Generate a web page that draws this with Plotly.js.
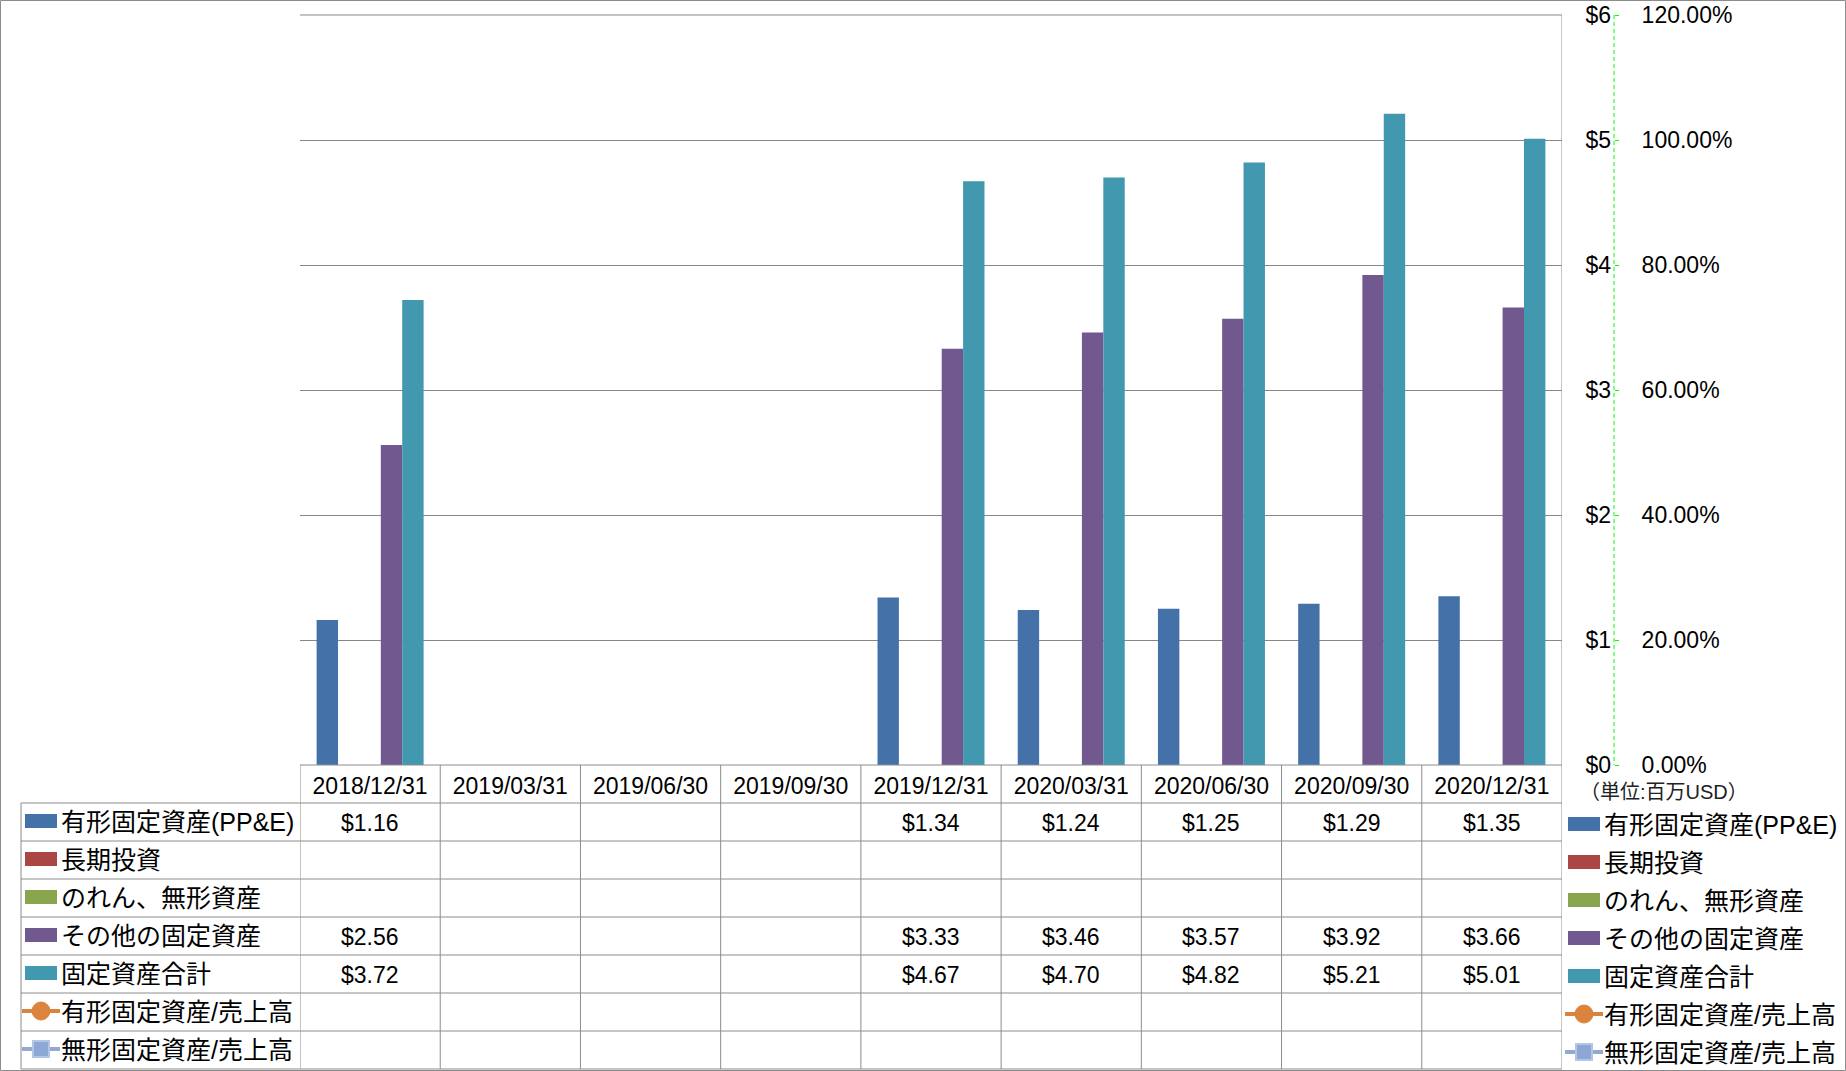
<!DOCTYPE html>
<html>
<head>
<meta charset="utf-8">
<script src="https://cdn.plot.ly/plotly-3.0.1.min.js"></script>
<style>
  html, body { margin: 0; padding: 0; background: #ffffff; }
  #chart { width: 1846px; height: 1071px; }
</style>
</head>
<body>
<div id="chart"></div>
<script>
// ---- data ----
const categories = ['2018/12/31', '2019/03/31', '2019/06/30', '2019/09/30', '2019/12/31', '2020/03/31', '2020/06/30', '2020/09/30', '2020/12/31'];
const ppe          = [1.16, null, null, null, 1.34, 1.24, 1.25, 1.29, 1.35];
const ltInvest     = [null, null, null, null, null, null, null, null, null];
const goodwill     = [null, null, null, null, null, null, null, null, null];
const otherFixed   = [2.56, null, null, null, 3.33, 3.46, 3.57, 3.92, 3.66];
const totalFixed   = [3.72, null, null, null, 4.67, 4.70, 4.82, 5.21, 5.01];
const ppeToSales   = [null, null, null, null, null, null, null, null, null];
const intangToSales= [null, null, null, null, null, null, null, null, null];
const seriesNames  = ['有形固定資産(PP&E)', '長期投資', 'のれん、無形資産', 'その他の固定資産', '固定資産合計', '有形固定資産/売上高', '無形固定資産/売上高'];
const usdTicks     = [0, 1, 2, 3, 4, 5, 6];
const usdTickText  = ['$0', '$1', '$2', '$3', '$4', '$5', '$6'];
const pctTicks     = [0, 0.2, 0.4, 0.6, 0.8, 1.0, 1.2];
const unitLabel    = '（単位:百万USD）';

// ---- styling ----
const W = 1846, H = 1071;
const fx = x => x / W;
const fy = y => 1 - y / H;
const FONT = 'Liberation Sans, Noto Sans CJK JP, sans-serif';
const GRID = '#878787';
const LINE = '#8c8c8c';
const barColors = ['#4471A7', '#AA4643', '#89A54E', '#71588F', '#4198AF'];
const lineColors = ['#DB843D', '#93A9CF'];

const barSeries = [ppe, ltInvest, goodwill, otherFixed, totalFixed];
const lineSeries = [ppeToSales, intangToSales];
const allSeries = barSeries.concat(lineSeries);

const traces = [];
barSeries.forEach((s, i) => {
  traces.push({
    type: 'bar', x: categories, y: s, name: seriesNames[i],
    marker: { color: barColors[i] }, xaxis: 'x', yaxis: 'y', hoverinfo: 'skip'
  });
});
lineSeries.forEach((s, i) => {
  traces.push({
    type: 'scatter', mode: 'lines+markers', x: categories, y: s, name: seriesNames[5 + i],
    line: { color: lineColors[i], width: 3 }, marker: { color: lineColors[i], size: 10 },
    xaxis: 'x', yaxis: 'y2', hoverinfo: 'skip'
  });
});

const plotTop = 15, plotBottom = 765, plotLeft = 300, plotRight = 1562;
const axisX = 1614;
const rowTop0 = 803, rowH = 38, nRows = 7, tableBottom = rowTop0 + rowH * nRows; // 1069

const shapes = [];
// outer border
shapes.push({ type: 'rect', xref: 'paper', yref: 'paper', x0: fx(0.5), x1: fx(W - 0.5), y0: fy(0.5), y1: fy(H - 0.5), line: { color: LINE, width: 1 } });
// top gridline ($6)
shapes.push({ type: 'line', xref: 'paper', yref: 'paper', x0: fx(plotLeft), x1: fx(plotRight), y0: fy(plotTop), y1: fy(plotTop), line: { color: GRID, width: 1 }, layer: 'below' });
// green dashed secondary axis line
shapes.push({ type: 'line', xref: 'paper', yref: 'paper', x0: fx(axisX), x1: fx(axisX), y0: fy(plotTop), y1: fy(plotBottom), line: { color: '#00FF00', width: 1, dash: '4px,3px' } });
// table: top line (axis line)
shapes.push({ type: 'line', xref: 'paper', yref: 'paper', x0: fx(plotLeft), x1: fx(plotRight), y0: fy(plotBottom), y1: fy(plotBottom), line: { color: LINE, width: 1 } });
// table row lines
for (let r = 0; r <= nRows; r++) {
  const y = rowTop0 + rowH * r;
  shapes.push({ type: 'line', xref: 'paper', yref: 'paper', x0: fx(21), x1: fx(plotRight), y0: fy(y), y1: fy(y), line: { color: LINE, width: 1 } });
}
// left vertical border of legend column
shapes.push({ type: 'line', xref: 'paper', yref: 'paper', x0: fx(21), x1: fx(21), y0: fy(rowTop0), y1: fy(tableBottom), line: { color: LINE, width: 1 } });
// category column boundaries
for (let k = 0; k <= categories.length; k++) {
  const top = (k === categories.length) ? plotTop : plotBottom;
  shapes.push({ type: 'line', xref: 'x', yref: 'paper', x0: k - 0.5, x1: k - 0.5, y0: fy(top), y1: fy(tableBottom), line: { color: LINE, width: 1 } });
}

const annotations = [];
// table values
allSeries.forEach((s, i) => {
  s.forEach((v, j) => {
    if (v === null || v === undefined) return;
    annotations.push({
      xref: 'x', yref: 'paper', x: categories[j], y: fy(rowTop0 + rowH * i + rowH / 2 + 1),
      text: '$' + v.toFixed(2), showarrow: false, xanchor: 'center', yanchor: 'middle',
      font: { family: FONT, size: 23, color: '#000' }
    });
  });
});

// legend keys (left table & right legend)
function addLegend(keyX0, textX, cy0) {
  seriesNames.forEach((name, i) => {
    const cy = cy0 + rowH * i;
    if (i < 5) {
      shapes.push({ type: 'rect', xref: 'paper', yref: 'paper', x0: fx(keyX0), x1: fx(keyX0 + 32), y0: fy(cy - 7), y1: fy(cy + 7), line: { width: 0 }, fillcolor: barColors[i] });
    } else {
      const col = lineColors[i - 5];
      shapes.push({ type: 'line', xref: 'paper', yref: 'paper', x0: fx(keyX0 - 3), x1: fx(keyX0 + 35), y0: fy(cy), y1: fy(cy), line: { color: col, width: 4 } });
      const cx = keyX0 + 16;
      if (i === 5) {
        shapes.push({ type: 'circle', xref: 'paper', yref: 'paper', x0: fx(cx - 9), x1: fx(cx + 9), y0: fy(cy - 9), y1: fy(cy + 9), line: { color: col, width: 1 }, fillcolor: col });
      } else {
        shapes.push({ type: 'rect', xref: 'paper', yref: 'paper', x0: fx(cx - 8), x1: fx(cx + 8), y0: fy(cy - 8), y1: fy(cy + 8), line: { color: '#B4C6E7', width: 2 }, fillcolor: '#8EA8D6' });
      }
    }
    annotations.push({
      xref: 'paper', yref: 'paper', x: fx(textX), y: fy(cy + 1), text: name, showarrow: false,
      xanchor: 'left', yanchor: 'middle', font: { family: FONT, size: 25, color: '#000' }
    });
  });
}
addLegend(25, 59, 821);
addLegend(1568, 1602, 824);

// unit label
annotations.push({
  xref: 'paper', yref: 'paper', x: fx(1578), y: fy(792), text: unitLabel, showarrow: false,
  xanchor: 'left', yanchor: 'middle', font: { family: FONT, size: 20, color: '#222' }
});

const layout = {
  width: W, height: H,
  margin: { l: 0, r: 0, t: 0, b: 0, pad: 0 },
  paper_bgcolor: '#ffffff', plot_bgcolor: '#ffffff',
  showlegend: false,
  barmode: 'group', bargap: 0.237, bargroupgap: 0,
  font: { family: FONT, color: '#000' },
  xaxis: {
    type: 'category', domain: [fx(plotLeft), fx(plotRight)], range: [-0.5, categories.length - 0.5],
    categoryorder: 'array', categoryarray: categories,
    showgrid: false, zeroline: false, showline: false, ticks: '', ticklabelstandoff: 5,
    tickfont: { family: FONT, size: 23, color: '#000' }, fixedrange: true
  },
  yaxis: {
    domain: [fy(plotBottom), fy(plotTop)], range: [0, 6], tickmode: 'array', tickvals: usdTicks, ticktext: usdTickText,
    anchor: 'free', position: fx(axisX), side: 'left',
    showgrid: true, gridcolor: GRID, gridwidth: 1, zeroline: false, showline: false, ticks: '',
    ticklabelstandoff: 3,
    tickfont: { family: FONT, size: 23, color: '#000' }, fixedrange: true
  },
  yaxis2: {
    overlaying: 'y', range: [0, 1.2], tickmode: 'array', tickvals: pctTicks, tickformat: '.2%',
    anchor: 'free', position: fx(axisX), side: 'right',
    showgrid: false, zeroline: false, showline: false,
    ticks: 'outside', ticklen: 4, tickcolor: '#00FF00', tickwidth: 1,
    ticklabelstandoff: 18,
    tickfont: { family: FONT, size: 23, color: '#000' }, fixedrange: true
  },
  shapes: shapes,
  annotations: annotations
};

Plotly.newPlot('chart', traces, layout, { displayModeBar: false, staticPlot: true });
</script>
</body>
</html>
